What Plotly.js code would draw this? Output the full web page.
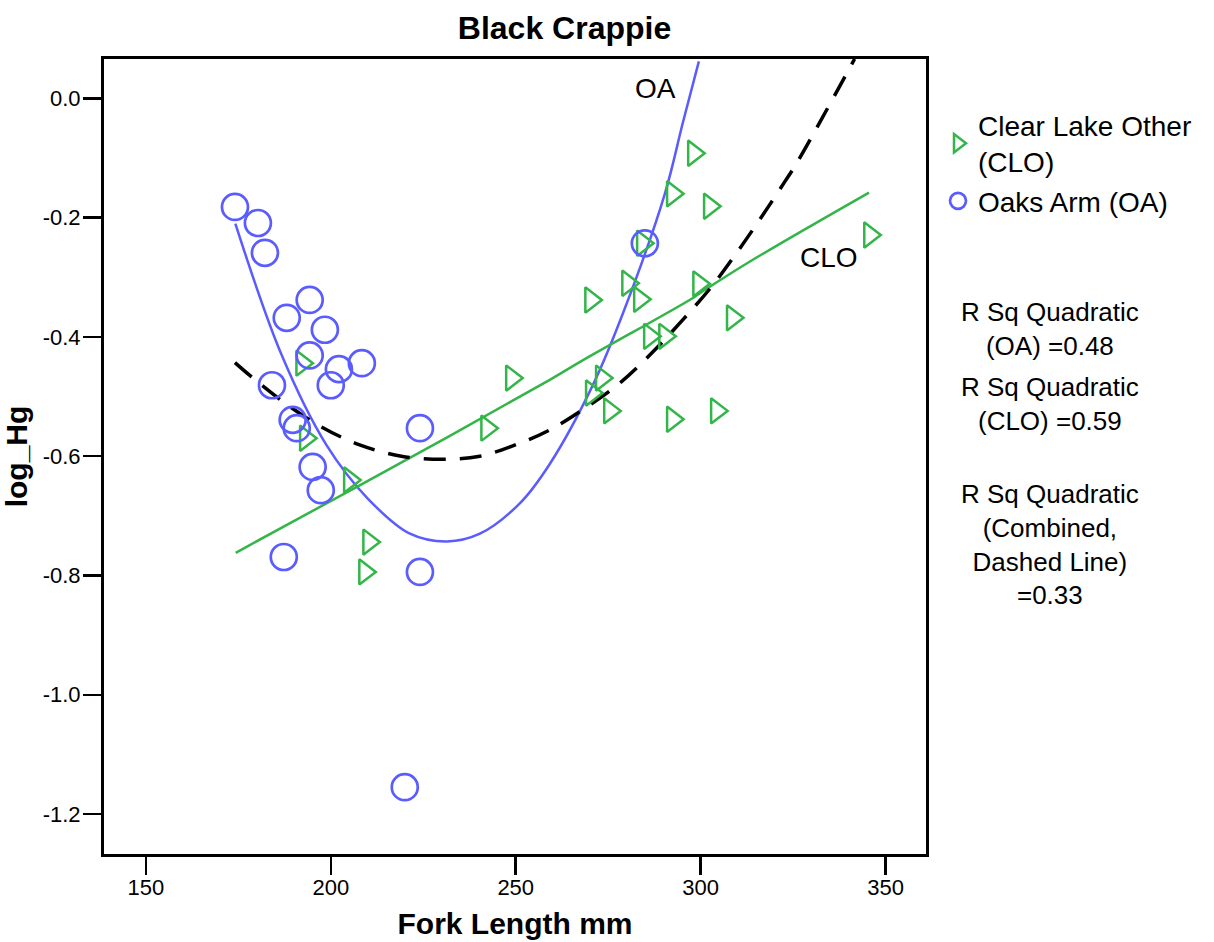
<!DOCTYPE html>
<html>
<head>
<meta charset="utf-8">
<script src="https://cdn.plot.ly/plotly-3.0.1.min.js"></script>
<style>
  html, body { margin: 0; padding: 0; background: #fff; }
  #chart { width: 1214px; height: 942px; }
</style>
</head>
<body>
<div id="chart"></div>
<script>
// ---- Data ----

// Clear Lake Other (CLO) – Fork Length mm / log_Hg
const cloLength = [298.1, 292.4, 302.4, 284.3, 280.3, 270.3, 283.5, 299.5, 308.6, 286.2,
                   290.3, 273.2, 270.5, 275.4, 292.4, 304.3, 345.7, 248.9, 242.2, 192.2,
                   193.2, 205.1, 210.3, 209.2];
const cloLogHg  = [-0.092, -0.160, -0.181, -0.243, -0.310, -0.338, -0.337, -0.311, -0.368, -0.399,
                   -0.399, -0.469, -0.494, -0.524, -0.538, -0.524, -0.229, -0.469, -0.553, -0.444,
                   -0.570, -0.640, -0.744, -0.794];

// Oaks Arm (OA) – Fork Length mm / log_Hg
const oaLength = [174.1, 180.3, 182.2, 194.3, 188.1, 198.4, 194.3, 208.4, 202.2, 200.0,
                  184.1, 189.7, 190.8, 224.1, 195.1, 197.3, 187.3, 224.1, 220.0, 284.9];
const oaLogHg  = [-0.182, -0.209, -0.259, -0.338, -0.368, -0.388, -0.431, -0.444, -0.454, -0.481,
                  -0.481, -0.539, -0.553, -0.553, -0.618, -0.657, -0.769, -0.794, -1.155, -0.243];

// Quadratic fit lines
const oaFitLength = [174.2, 186.7, 198.8, 210.0, 221.4, 231.4, 240.3, 251.1, 259.2, 270.9,
                     279.5, 290.3, 295.2, 299.5];
const oaFitLogHg  = [-0.210, -0.430, -0.581, -0.671, -0.730, -0.743, -0.730, -0.679, -0.613, -0.480,
                     -0.352, -0.160, -0.040, 0.062];

const cloFitLength = [174.3, 178.1, 232.2, 259.2, 268.2, 297.0, 299.7, 313.2, 345.5];
const cloFitLogHg  = [-0.762, -0.749, -0.566, -0.472, -0.439, -0.338, -0.327, -0.274, -0.158];

const allFitLength = [174.1, 178.6, 187.6, 197.5, 207.8, 219.1, 230.8, 240.3, 251.1, 259.2,
                      269.1, 278.6, 287.1, 295.2, 302.9, 309.6, 316.2, 322.7, 325.9, 341.6];
const allFitLogHg  = [-0.443, -0.467, -0.511, -0.551, -0.581, -0.600, -0.605, -0.600, -0.578, -0.556,
                      -0.518, -0.475, -0.425, -0.371, -0.316, -0.260, -0.201, -0.140, -0.109, 0.066];

const xTickVals = [150, 200, 250, 300, 350];
const yTickVals = [0.0, -0.2, -0.4, -0.6, -0.8, -1.0, -1.2];
const yTickText = ["0.0", "-0.2", "-0.4", "-0.6", "-0.8", "-1.0", "-1.2"];

const rsqLabels = [
  "R Sq Quadratic<br>(OA) =0.48",
  "R Sq Quadratic<br>(CLO) =0.59",
  "R Sq Quadratic<br>(Combined,<br>Dashed Line)<br>=0.33"
];

const BLUE = "#5a5cff";
const GREEN = "#33b54a";
const FONT = "Liberation Sans, Arial, sans-serif";

const traces = [
  { x: oaFitLength, y: oaFitLogHg, mode: "lines", line: {color: BLUE, width: 2.5, shape: "spline", smoothing: 1}, showlegend: false, hoverinfo: "skip" },
  { x: cloFitLength, y: cloFitLogHg, mode: "lines", line: {color: GREEN, width: 2.5, shape: "spline", smoothing: 1}, showlegend: false, hoverinfo: "skip" },
  { x: allFitLength, y: allFitLogHg, mode: "lines", line: {color: "#000", width: 3.5, dash: "22px,14px", shape: "spline", smoothing: 1}, showlegend: false, hoverinfo: "skip" },
  { x: cloLength, y: cloLogHg, name: "Clear Lake Other<br>(CLO)", mode: "markers", type: "scatter",
    marker: {symbol: "triangle-right-open", size: 22, color: GREEN, line: {color: GREEN, width: 2.5}} },
  { x: oaLength, y: oaLogHg, name: "Oaks Arm (OA)", mode: "markers", type: "scatter",
    marker: {symbol: "circle-open", size: 26, color: BLUE, line: {color: BLUE, width: 2.7}} }
];

const annotations = [
  { x: 287.8, y: 0.017, xref: "x", yref: "y", text: "OA", showarrow: false, xanchor: "center", yanchor: "middle", font: {size: 28, color: "#000", family: FONT} },
  { x: 334.6, y: -0.266, xref: "x", yref: "y", text: "CLO", showarrow: false, xanchor: "center", yanchor: "middle", font: {size: 28, color: "#000", family: FONT} },
  { x: 1.151, y: 0.660, xref: "paper", yref: "paper", text: rsqLabels[0], showarrow: false, align: "center", xanchor: "center", yanchor: "middle", font: {size: 26, color: "#000", family: FONT} },
  { x: 1.151, y: 0.566, xref: "paper", yref: "paper", text: rsqLabels[1], showarrow: false, align: "center", xanchor: "center", yanchor: "middle", font: {size: 26, color: "#000", family: FONT} },
  { x: 1.151, y: 0.389, xref: "paper", yref: "paper", text: rsqLabels[2], showarrow: false, align: "center", xanchor: "center", yanchor: "middle", font: {size: 26, color: "#000", family: FONT} }
];

const layout = {
  width: 1214, height: 942,
  margin: {l: 104, r: 288, t: 59, b: 88, pad: 0},
  paper_bgcolor: "#fff", plot_bgcolor: "#fff",
  font: {family: FONT, color: "#000"},
  title: {text: "<b>Black Crappie</b>", x: 0.465, xanchor: "center", y: 0.971, yanchor: "middle", font: {size: 32, color: "#000", family: FONT}},
  xaxis: {
    range: [138.7, 360.9], tickvals: xTickVals, ticks: "outside", ticklen: 18, tickwidth: 2.5, tickcolor: "#000",
    ticklabelstandoff: -6,
    showgrid: false, zeroline: false, showline: true, linecolor: "#000", linewidth: 3, mirror: true,
    tickfont: {size: 22, color: "#000", family: FONT},
    title: {text: "<b>Fork Length mm</b>", font: {size: 30, color: "#000", family: FONT}, standoff: 14}
  },
  yaxis: {
    range: [-1.267, 0.066], tickvals: yTickVals, ticktext: yTickText, ticks: "outside", ticklen: 18, tickwidth: 2.5, tickcolor: "#000",
    ticklabelstandoff: -2,
    showgrid: false, zeroline: false, showline: true, linecolor: "#000", linewidth: 3, mirror: true,
    tickfont: {size: 22, color: "#000", family: FONT},
    title: {text: "<b>log_Hg</b>", font: {size: 30, color: "#000", family: FONT}, standoff: 8}
  },
  legend: {
    x: 1.0146, xanchor: "left", y: 0.948, yanchor: "top",
    font: {size: 28, color: "#000", family: FONT}, bgcolor: "rgba(0,0,0,0)", borderwidth: 0,
    tracegroupgap: 0, itemsizing: "trace"
  },
  annotations: annotations,
  showlegend: true
};

Plotly.newPlot("chart", traces, layout, {displayModeBar: false, staticPlot: true});
</script>
</body>
</html>
